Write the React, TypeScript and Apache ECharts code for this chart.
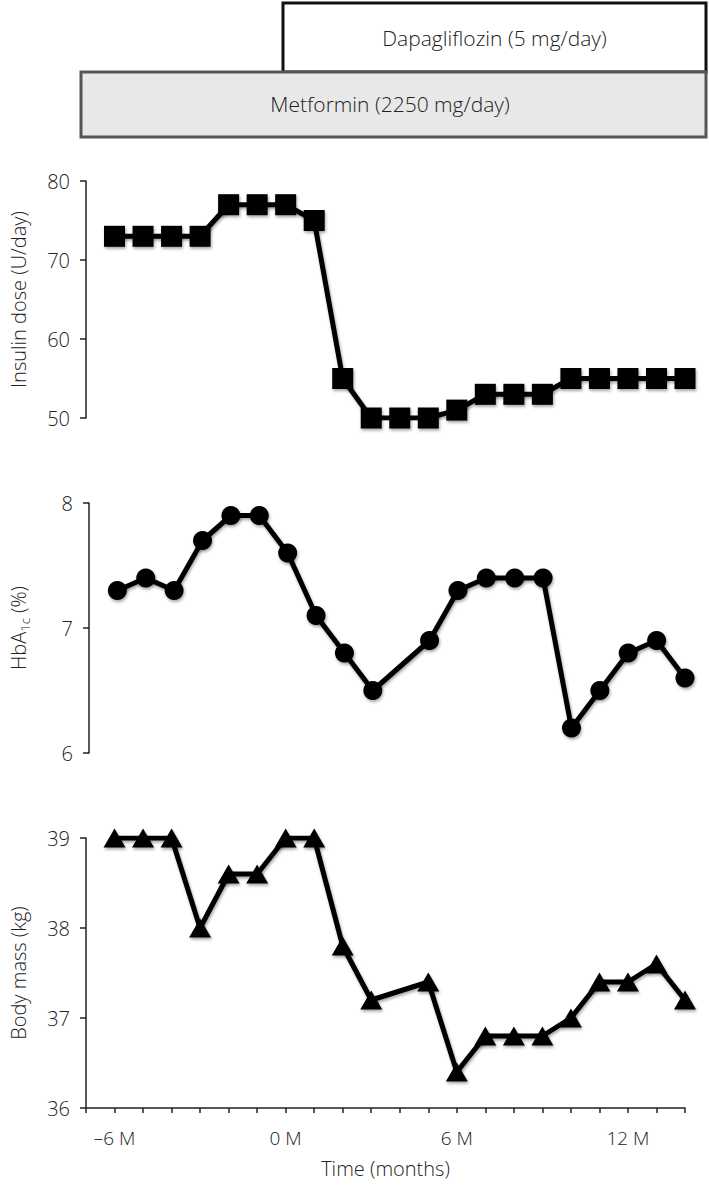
import React, { useEffect, useRef } from "react";
import * as echarts from "echarts";

const months = [-6, -5, -4, -3, -2, -1, 0, 1, 2, 3, 4, 5, 6, 7, 8, 9, 10, 11, 12, 13, 14];
const insulinDose = [73, 73, 73, 73, 77, 77, 77, 75, 55, 50, 50, 50, 51, 53, 53, 53, 55, 55, 55, 55, 55];
const hba1c = [7.3, 7.4, 7.3, 7.7, 7.9, 7.9, 7.6, 7.1, 6.8, 6.5, null, 6.9, 7.3, 7.4, 7.4, 7.4, 6.2, 6.5, 6.8, 6.9, 6.6];
const bodyMass = [39, 39, 39, 38, 38.6, 38.6, 39, 39, 37.8, 37.2, null, 37.4, 36.4, 36.8, 36.8, 36.8, 37.0, 37.4, 37.4, 37.6, 37.2];
const xTickLabels = [-6, 0, 6, 12];
const treatments = ["Dapagliflozin (5 mg/day)", "Metformin (2250 mg/day)"];

const FONT = "'Open Sans', 'Noto Sans', sans-serif";
const TXT = "#222";

function pairs(vals: (number | null)[]) {
  const out: number[][] = [];
  months.forEach((m, i) => {
    const v = vals[i];
    if (v !== null && v !== undefined) out.push([m, v]);
  });
  return out;
}

export default function App() {
  const ref = useRef<HTMLDivElement>(null);
  useEffect(() => {
    document.body.style.margin = "0";
    const chart = echarts.init(ref.current!, undefined, { renderer: "svg" });
    const left = 81;
    const right = 24;
    const grids = [
      { left, right, top: 181, height: 237 },
      { left, right, top: 503, height: 250 },
      { left, right, top: 838, height: 270 },
    ];
    const xAxis = grids.map((_, i) => ({
      type: "value",
      gridIndex: i,
      min: -7,
      max: 14,
      interval: 1,
      show: i === 2,
      name: i === 2 ? "Time (months)" : "",
      nameLocation: "middle",
      nameGap: 50,
      nameTextStyle: { fontFamily: FONT, fontSize: 20, color: TXT, fontWeight: 300 },
      axisLine: { show: true, onZero: false, lineStyle: { color: TXT, width: 1.5 } },
      axisTick: { show: true, length: 5, lineStyle: { color: TXT, width: 1.5 } },
      splitLine: { show: false },
      axisLabel: {
        margin: 20,
        fontFamily: FONT,
        fontSize: 19,
        color: TXT,
        fontWeight: 300,
        formatter: (v: number) =>
          xTickLabels.includes(v) ? (v < 0 ? "\u2013" + Math.abs(v) + " M" : v + " M") : "",
      },
    }));
    const yDefs = [
      { min: 50, max: 80, interval: 10, name: "Insulin dose (U/day)" },
      { min: 6, max: 8, interval: 1, name: "{a|HbA}{s|1c}{a| (%)}" },
      { min: 36, max: 39, interval: 1, name: "Body mass (kg)" },
    ];
    const yAxis = yDefs.map((d, i) => ({
      type: "value",
      gridIndex: i,
      min: d.min,
      max: d.max,
      interval: d.interval,
      name: d.name,
      nameLocation: "middle",
      nameGap: 58,
      nameTextStyle: {
        fontFamily: FONT,
        fontSize: 20,
        color: TXT,
        fontWeight: 300,
        rich: {
          a: { fontFamily: FONT, fontSize: 20, color: TXT, fontWeight: 300, lineHeight: 26 },
          s: { fontFamily: FONT, fontSize: 13, color: TXT, fontWeight: 300, lineHeight: 13, verticalAlign: "bottom" },
        },
      },
      axisLine: { show: true, onZero: false, lineStyle: { color: TXT, width: 1.5 } },
      axisTick: { show: true, length: 6, lineStyle: { color: TXT, width: 1.5 } },
      splitLine: { show: false },
      axisLabel: { margin: 16, fontFamily: FONT, fontSize: 20, color: TXT, fontWeight: 300 },
    }));
    const shadow = { shadowBlur: 3, shadowColor: "rgba(0,0,0,0.35)", shadowOffsetX: 1, shadowOffsetY: 2 };
    const mk = (i: number, data: number[][], symbol: string, size: any) => ({
      type: "line",
      xAxisIndex: i,
      yAxisIndex: i,
      data,
      symbol,
      symbolSize: size,
      showSymbol: true,
      connectNulls: true,
      lineStyle: { color: "#000", width: 5, ...shadow },
      itemStyle: { color: "#000", borderWidth: 0, ...shadow },
      z: 3,
    });
    const boxW = 706;
    const dapaX = 283;
    chart.setOption({
      animation: false,
      grid: grids,
      xAxis,
      yAxis,
      series: [
        mk(0, pairs(insulinDose), "rect", 21),
        mk(1, pairs(hba1c), "circle", 19),
        mk(2, pairs(bodyMass), "triangle", [22, 19]),
      ],
      graphic: [
        {
          type: "rect",
          shape: { x: dapaX, y: 3, width: boxW - dapaX, height: 69 },
          style: { fill: "#fff", stroke: "#111", lineWidth: 3 },
          z: 1,
        },
        {
          type: "rect",
          shape: { x: left, y: 72, width: boxW - left, height: 65 },
          style: { fill: "#e8e8e8", stroke: "#555", lineWidth: 3 },
          z: 2,
        },
        {
          type: "text",
          z: 5,
          style: {
            text: treatments[0],
            x: (dapaX + boxW) / 2,
            y: 38,
            fill: TXT,
            font: `300 21px ${FONT}`,
            textAlign: "center",
            textVerticalAlign: "middle",
          },
        },
        {
          type: "text",
          z: 5,
          style: {
            text: treatments[1],
            x: 390,
            y: 104,
            fill: TXT,
            font: `300 21px ${FONT}`,
            textAlign: "center",
            textVerticalAlign: "middle",
          },
        },
      ],
    });
    return () => chart.dispose();
  }, []);
  return <div ref={ref} style={{ width: 709, height: 1187 }} />;
}
